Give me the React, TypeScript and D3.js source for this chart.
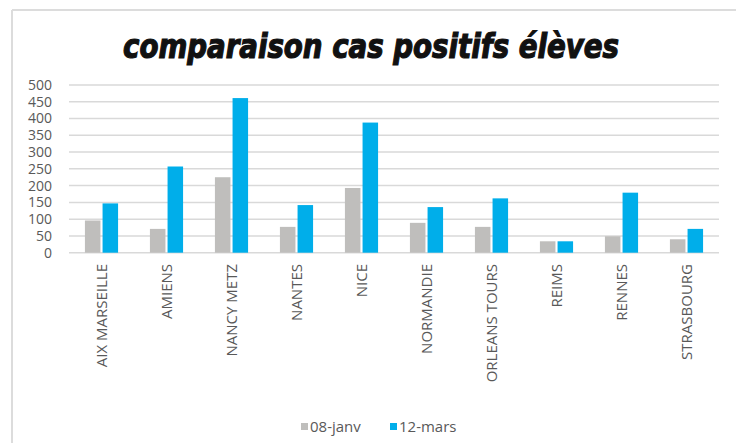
import React from "react";
import * as d3 from "d3";

const categories = ["AIX MARSEILLE", "AMIENS", "NANCY METZ", "NANTES", "NICE", "NORMANDIE", "ORLEANS TOURS", "REIMS", "RENNES", "STRASBOURG"];
const seriesNames = ["08-janv", "12-mars"];
const janv = [96, 71, 225, 77, 193, 89, 77, 34, 49, 40];
const mars = [147, 257, 461, 142, 388, 136, 162, 34, 179, 71];
const yTicks = [0, 50, 100, 150, 200, 250, 300, 350, 400, 450, 500];
const colors = ["#BFBEBC", "#00AEEA"];

export default function App() {
  const W = 736, H = 443;
  const left = 69, right = 719, top = 85, bottom = 252.7;
  const x = d3.scaleBand<string>().domain(categories).range([left, right]).paddingInner(0.49).paddingOuter(0.245);
  const xs = d3.scaleBand<string>().domain(seriesNames).range([0, x.bandwidth()]).paddingInner(0.12);
  const y = d3.scaleLinear().domain([0, 500]).range([bottom, top]);
  const series = [janv, mars];
  const font = "'Open Sans', sans-serif";
  return (
    <svg width={W} height={H} style={{ position: "absolute", left: 0, top: 0, background: "#fff" }}>
      <rect x={0} y={0} width={W} height={H} fill="#fff" />
      <line x1={12} x2={W} y1={10} y2={10} stroke="#dcdcdc" strokeWidth={2} />
      <line x1={12} x2={12} y1={10} y2={H} stroke="#dcdcdc" strokeWidth={2} />
      <text x={371} y={58} textAnchor="middle" fontFamily="'DejaVu Sans Condensed', 'DejaVu Sans', sans-serif" fontWeight="bold" fontStyle="italic" fontSize={34} fill="#111" stroke="#111" strokeWidth={1.2} textLength={496} lengthAdjust="spacingAndGlyphs">comparaison cas positifs élèves</text>
      {yTicks.map((t) => (
        <g key={t}>
          <line x1={left} x2={right} y1={y(t)} y2={y(t)} stroke="#d9d9d9" strokeWidth={1.5} />
          <text x={52} y={y(t)} dy="0.35em" textAnchor="end" fontFamily={font} fontSize={14} fill="#595959">{t}</text>
        </g>
      ))}
      {categories.map((c, i) => (
        <g key={c}>
          {series.map((s, j) => (
            <rect key={j} x={(x(c) as number) + (xs(seriesNames[j]) as number)} y={y(s[i])} width={xs.bandwidth()} height={bottom - y(s[i])} fill={colors[j]} />
          ))}
          <text transform={`translate(${(x(c) as number) + x.bandwidth() / 2},264) rotate(-90)`} textAnchor="end" dy="0.35em" fontFamily={font} fontSize={15} fill="#595959">{c}</text>
        </g>
      ))}
      {seriesNames.map((n, j) => {
        const lx = [301, 390][j];
        return (
          <g key={n}>
            <rect x={lx} y={423} width={7} height={7} fill={colors[j]} />
            <text x={lx + 9} y={427} dy="0.35em" fontFamily={font} fontSize={15} fill="#595959">{n}</text>
          </g>
        );
      })}
    </svg>
  );
}
